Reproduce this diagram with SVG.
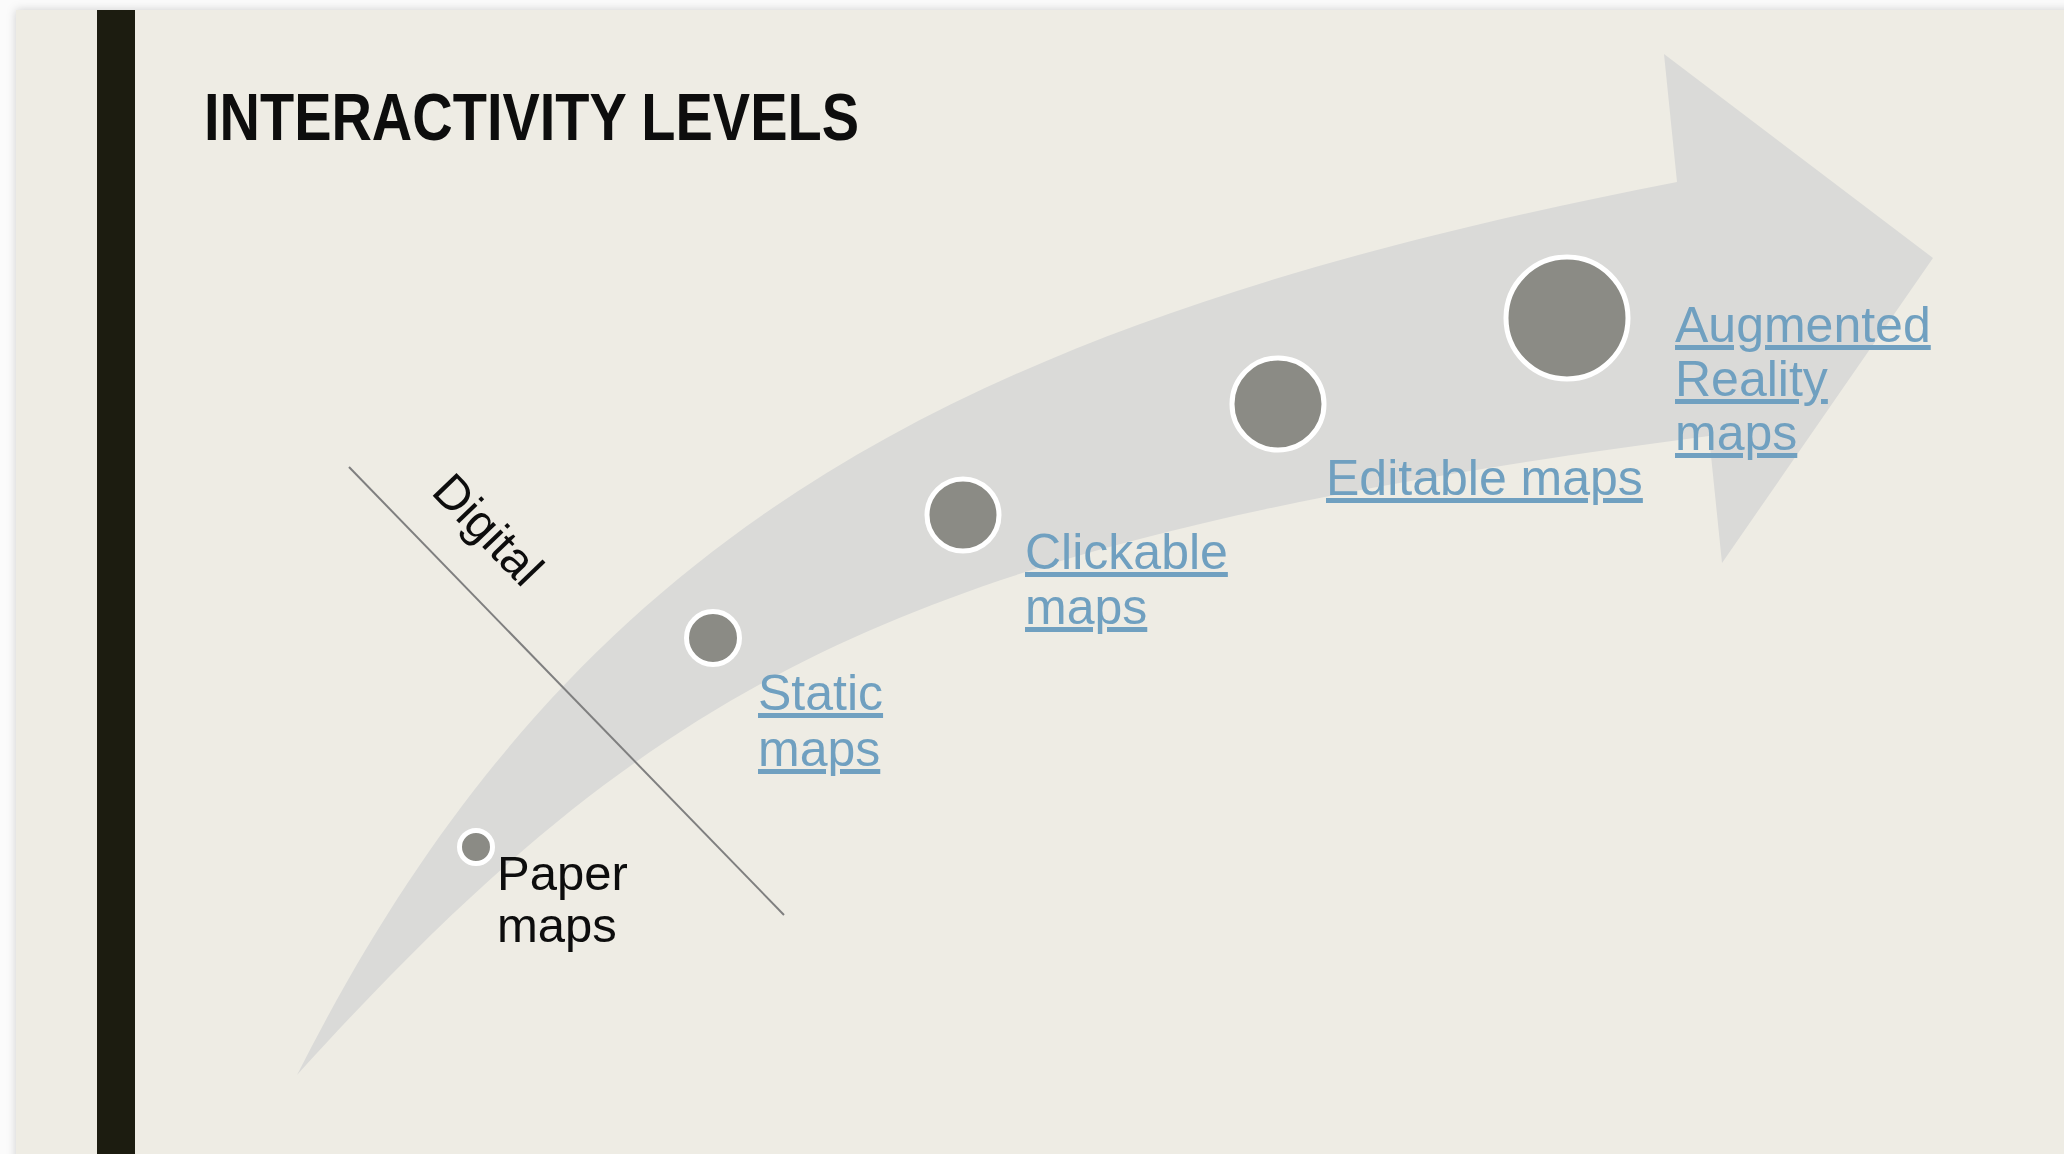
<svg xmlns="http://www.w3.org/2000/svg" width="2064" height="1154" viewBox="0 0 2064 1154">
  <defs>
    <filter id="shadow" x="-5%" y="-5%" width="110%" height="110%">
      <feDropShadow dx="0" dy="0" stdDeviation="5" flood-color="#000" flood-opacity="0.18"/>
    </filter>
  </defs>
  <style>
    .label { font-family: "Liberation Sans", Arial, sans-serif; font-size: 50px; fill: #70A0C0; text-decoration: underline; }
    .dot { fill: #8B8B85; stroke: #FFFFFF; stroke-width: 5; }
  </style>
  <rect x="0" y="0" width="2064" height="1154" fill="#FBFBFB"/>
  <rect id="slide" x="16" y="10" width="2060" height="1160" fill="#EEECE4" filter="url(#shadow)"/>
  <rect id="bar" x="97" y="10" width="38" height="1150" fill="#1C1C10"/>
  <text id="title" x="204" y="140" font-family="'Liberation Sans Narrow', 'Liberation Sans', Arial, sans-serif" font-size="66" font-weight="bold" fill="#0D0D0D" textLength="655" lengthAdjust="spacingAndGlyphs">INTERACTIVITY LEVELS</text>

  <path id="arrow" fill="#DADAD8" d="M297,1075 C567,541 942,324.5 1677,182 L1664,54 L1933,258 L1722,563 L1709,436 C917,540 665.5,668 297,1075 Z"/>

  <g id="connectors">
    <line id="digital-divider" x1="349" y1="467" x2="784" y2="915" stroke="#7F7F7F" stroke-width="2"/>
  </g>

  <g id="digital-label">
    <text transform="translate(430,493) rotate(46)" font-family="'Liberation Sans', Arial, sans-serif" font-size="48" fill="#0D0D0D">Digital</text>
  </g>

  <g id="node-paper">
    <circle class="dot" cx="476" cy="847" r="16.5" stroke-width="4.5"/>
    <text font-family="'Liberation Sans', Arial, sans-serif" font-size="49" fill="#0D0D0D"><tspan x="497" y="890">Paper</tspan><tspan x="497" y="942">maps</tspan></text>
  </g>

  <g id="node-static">
    <circle class="dot" cx="713" cy="638" r="26.5"/>
    <text class="label"><tspan x="758" y="710">Static</tspan><tspan x="758" y="766">maps</tspan></text>
  </g>

  <g id="node-clickable">
    <circle class="dot" cx="963" cy="515" r="36"/>
    <text class="label"><tspan x="1025" y="569">Clickable</tspan><tspan x="1025" y="624">maps</tspan></text>
  </g>

  <g id="node-editable">
    <circle class="dot" cx="1278" cy="404" r="46"/>
    <text class="label" x="1326" y="495">Editable maps</text>
  </g>

  <g id="node-augmented">
    <circle class="dot" cx="1567" cy="318" r="61"/>
    <text class="label"><tspan x="1675" y="342">Augmented</tspan><tspan x="1675" y="396">Reality</tspan><tspan x="1675" y="450">maps</tspan></text>
  </g>
</svg>
